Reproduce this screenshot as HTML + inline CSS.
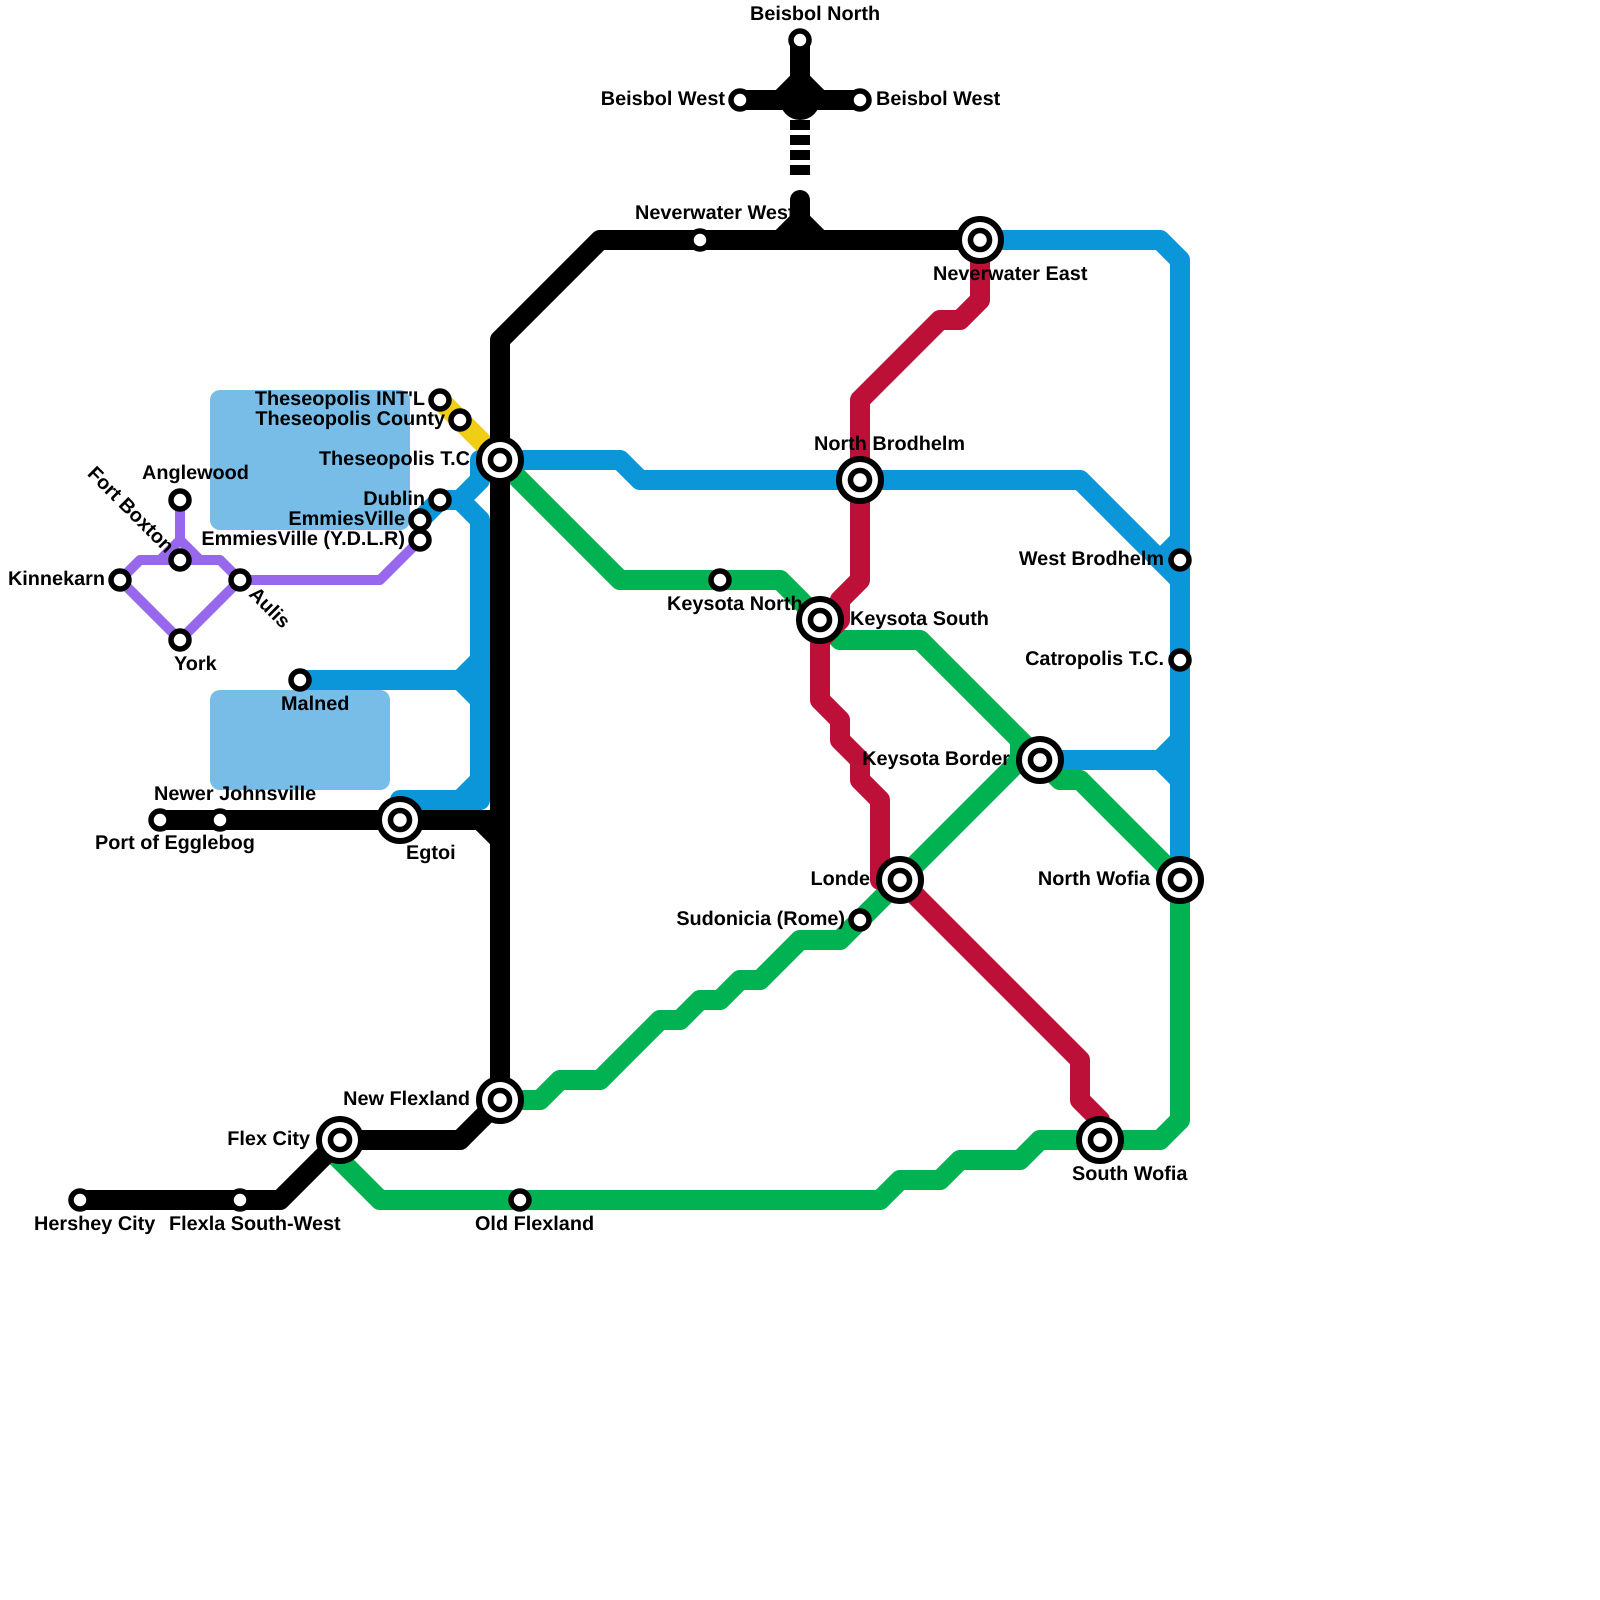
<!DOCTYPE html>
<html><head><meta charset="utf-8"><style>
html,body{margin:0;padding:0;background:#fff}
svg{display:block}
text{font-family:"Liberation Sans",sans-serif;font-weight:bold;font-size:19.85px;fill:#000;text-rendering:geometricPrecision}
.l{fill:none;stroke-width:20;stroke-linecap:round;stroke-linejoin:round}
.e{text-anchor:end}
</style></head><body>
<svg width="1600" height="1600" viewBox="0 0 1600 1600" xmlns="http://www.w3.org/2000/svg">
<rect width="1600" height="1600" fill="#fff"/>
<rect x="210" y="390" width="200" height="140" rx="10" fill="#78bde8"/>
<rect x="210" y="690" width="180" height="100" rx="10" fill="#78bde8"/>

<g class="l" stroke="#f0ce15"><path d="M440 400L500 460"/></g>

<g class="l" stroke="#9768ec" style="stroke-width:10">
<path d="M120 580L140 560H220L240 580"/>
<path d="M120 580L180 640L240 580H380L420 540"/>
<path d="M180 500V540L200 560"/>
<path d="M180 540L160 560"/>
</g>

<g class="l" stroke="#0a96d9">
<path d="M980 240H1160L1180 260V880"/>
<path d="M500 460H620L640 480H1080L1180 580"/>
<path d="M1160 560L1180 540"/>
<path d="M500 460H480V480L460 500H440L420 520"/>
<path d="M460 500L480 520V800H400"/>
<path d="M300 680H460L480 660"/>
<path d="M460 680L480 700"/>
<path d="M460 800L480 780"/>
<path d="M1040 760H1160L1180 740"/>
<path d="M1160 760L1180 780"/>
</g>

<g class="l" stroke="#00b251">
<path d="M500 460L620 580H780L820 620L840 640H920L1040 760L1060 780H1080L1180 880V1120L1160 1140H1040L1020 1160H960L940 1180H900L880 1200H380L330 1150"/>
<path d="M1040 760H1020V760L840 940H800L760 980H740L720 1000H700L680 1020H660L600 1080H560L540 1100H500"/>
<path d="M1020 740V760"/>
</g>

<g class="l" stroke="#bd1038">
<path d="M980 240V300L960 320H940L860 400V580L840 600V620L820 640"/>
<path d="M820 620V700L840 720V740L860 760V780L880 800V880H900L1080 1060V1100L1100 1120V1140"/>
</g>

<g class="l" stroke="#000">
<path d="M500 1100V340L600 240H980"/>
<path d="M80 1200H280L340 1140H460L500 1100"/>
<path d="M160 820H500"/>
<path d="M480 820L500 840"/>
<path d="M800 40V100"/>
<path d="M740 100H860"/>
<path d="M780 100L800 80L820 100"/>
<path d="M800 200V240"/>
<path d="M780 240L800 220L820 240"/>
</g>
<circle cx="800" cy="100" r="20" fill="#000"/>
<g fill="#000">
<rect x="790" y="120" width="20" height="10"/>
<rect x="790" y="135" width="20" height="10"/>
<rect x="790" y="150" width="20" height="10"/>
<rect x="790" y="165" width="20" height="10"/>
</g>

<g>
<text x="750" y="20">Beisbol North</text>
<text x="725" y="105" class="e">Beisbol West</text>
<text x="876" y="105">Beisbol West</text>
<text x="635" y="219">Neverwater West</text>
<text x="933" y="280">Neverwater East</text>
<text x="814" y="450">North Brodhelm</text>
<text x="667" y="610">Keysota North</text>
<text x="850" y="625">Keysota South</text>
<text x="1164" y="565" class="e">West Brodhelm</text>
<text x="1164" y="665" class="e">Catropolis T.C.</text>
<text x="1010" y="765" class="e">Keysota Border</text>
<text x="1150" y="885" class="e">North Wofia</text>
<text x="870" y="885" class="e">Londe</text>
<text x="845" y="925" class="e">Sudonicia (Rome)</text>
<text x="1072" y="1180">South Wofia</text>
<text x="475" y="1230">Old Flexland</text>
<text x="470" y="1105" class="e">New Flexland</text>
<text x="310" y="1145" class="e">Flex City</text>
<text x="169" y="1230">Flexla South-West</text>
<text x="34" y="1230">Hershey City</text>
<text x="406" y="859">Egtoi</text>
<text x="95" y="849">Port of Egglebog</text>
<text x="154" y="800">Newer Johnsville</text>
<text x="281" y="710">Malned</text>
<text x="174" y="670">York</text>
<text x="142" y="479">Anglewood</text>
<text x="105" y="585" class="e">Kinnekarn</text>
<text x="425" y="405" class="e">Theseopolis INT'L</text>
<text x="445" y="425" class="e">Theseopolis County</text>
<text x="470" y="465" class="e">Theseopolis T.C</text>
<text x="425" y="505" class="e">Dublin</text>
<text x="405" y="525" class="e">EmmiesVille</text>
<text x="405" y="545" class="e">EmmiesVille (Y.D.L.R)</text>
<text transform="translate(248 595) rotate(45)">Aulis</text>
<text class="e" transform="translate(166 554) rotate(45)">Fort Boxton</text>
</g>

<g fill="#fff" stroke="#000" stroke-width="5.5">
<circle cx="800" cy="40" r="9"/><circle cx="740" cy="100" r="9"/><circle cx="860" cy="100" r="9"/>
<circle cx="700" cy="240" r="9"/><circle cx="720" cy="580" r="9"/><circle cx="440" cy="400" r="9"/>
<circle cx="460" cy="420" r="9"/><circle cx="440" cy="500" r="9"/><circle cx="420" cy="520" r="9"/>
<circle cx="420" cy="540" r="9"/><circle cx="180" cy="500" r="9"/><circle cx="180" cy="560" r="9"/>
<circle cx="120" cy="580" r="9"/><circle cx="240" cy="580" r="9"/><circle cx="180" cy="640" r="9"/>
<circle cx="300" cy="680" r="9"/><circle cx="160" cy="820" r="9"/><circle cx="220" cy="820" r="9"/>
<circle cx="80" cy="1200" r="9"/><circle cx="240" cy="1200" r="9"/><circle cx="520" cy="1200" r="9"/>
<circle cx="860" cy="920" r="9"/><circle cx="1180" cy="560" r="9"/><circle cx="1180" cy="660" r="9"/>
</g>

<defs><g id="x"><circle r="21" fill="#fff" stroke="#000" stroke-width="6"/><circle r="9.5" fill="#fff" stroke="#000" stroke-width="5.6"/></g></defs>
<use href="#x" x="500" y="460"/><use href="#x" x="980" y="240"/><use href="#x" x="860" y="480"/>
<use href="#x" x="820" y="620"/><use href="#x" x="1040" y="760"/><use href="#x" x="900" y="880"/>
<use href="#x" x="1180" y="880"/><use href="#x" x="1100" y="1140"/><use href="#x" x="500" y="1100"/>
<use href="#x" x="340" y="1140"/><use href="#x" x="400" y="820"/>
</svg>
</body></html>
